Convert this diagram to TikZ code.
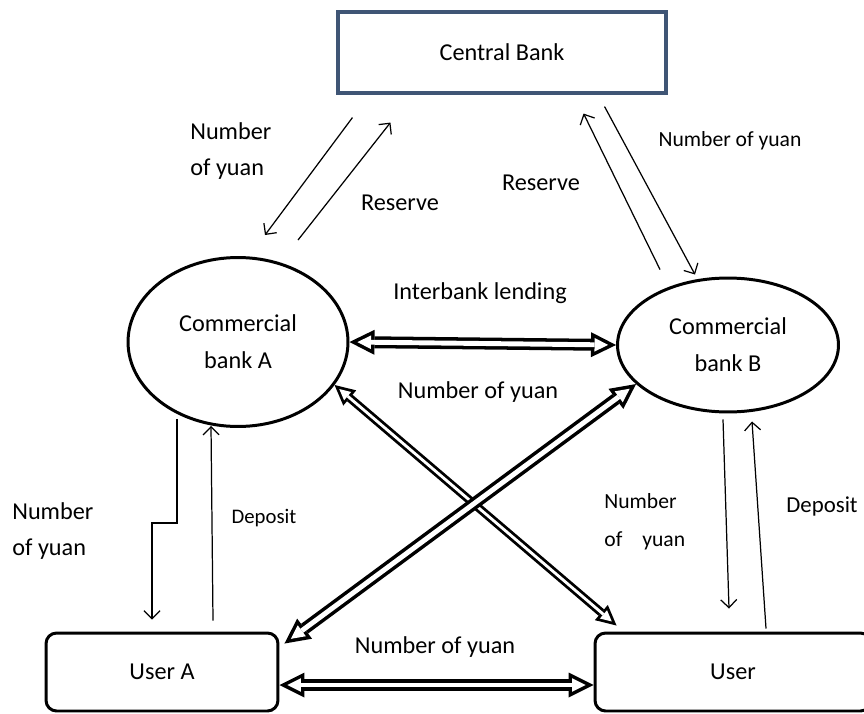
\documentclass[tikz,border=0pt]{standalone}
\definecolor{BankBlack}{HTML}{000000}
\definecolor{BankWhite}{HTML}{ffffff}
\definecolor{CentralSlate}{HTML}{3F5575}
\usepackage{fontspec}
\setmainfont{Carlito}
\usepackage{tikz}
\usetikzlibrary{shapes.geometric,arrows.meta,calc}
\tikzset{
    % Base text style
    basetext/.style={
        align=center,
        inner sep=0pt,
        font=\fontsize{13.8}{21}\selectfont
    },
    % Central bank box
    centralnode/.style={
        basetext,
        draw=CentralSlate,
        fill=BankWhite,
        line width=1.8pt,
        minimum width=6.56cm,
        minimum height=1.62cm
    },
    % Commercial bank ellipse
    banknode/.style={
        basetext,
        ellipse,
        draw=BankBlack,
        line width=1.7pt,
        minimum width=4.4cm,
        minimum height=3.38cm
    },
    % User box
    usernode/.style={
        basetext,
        draw=BankBlack,
        rounded corners=6pt,
        line width=1.7pt,
        minimum width=4.64cm,
        minimum height=1.56cm
    },
    % Free label
    labelnode/.style={
        basetext,
        align=left
    },
    % Thin one-way arrow
    flowarrow/.style={
        -{Straight Barb[length=1.6mm,width=3.2mm]},
        line width=0.7pt,
        draw=BankBlack
    },
    % Hollow two-way arrow (black arrow, white arrow inside)
    biarrow/.style={
        {Triangle[length=5mm,width=5mm,line width=0pt]}-{Triangle[length=5mm,width=5mm,line width=0pt]},
        line width=6.8pt,
        draw=BankBlack,
        postaction={
            draw=BankWhite,
            line width=2.8pt,
            shorten <=1.58mm, shorten >=1.58mm,
            {Triangle[length=2.72mm,width=2.72mm,line width=0pt]}-{Triangle[length=2.72mm,width=2.72mm,line width=0pt]}
        }
    },
    % Slimmer hollow two-way arrow
    slimbiarrow/.style={
        {Triangle[length=4mm,width=4mm,line width=0pt]}-{Triangle[length=4mm,width=4mm,line width=0pt]},
        line width=4.8pt,
        draw=BankBlack,
        postaction={
            draw=BankWhite,
            line width=1.6pt,
            shorten <=1.25mm, shorten >=1.25mm,
            {Triangle[length=2.19mm,width=2.19mm,line width=0pt]}-{Triangle[length=2.19mm,width=2.19mm,line width=0pt]}
        }
    }
}
\begin{document}
\begin{tikzpicture}[x=0.02cm, y=-0.02cm]
    \useasboundingbox (0,0) rectangle (864,713);

    % banks and users
    \node[centralnode] (central) at (502,52.5) {Central Bank};
    \node[banknode] (bankA) at (238,342) {Commercial\\bank A};
    \node[banknode, minimum width=4.42cm, minimum height=2.68cm] (bankB) at (728,345) {Commercial\\bank B};
    \node[usernode] (userA) at (162,672) {User A};
    \node[usernode, minimum width=5.52cm] (user) at (733,672) {User};

    % central bank and commercial banks
    \draw[flowarrow] ([shift={(16,23)}]central.south west) -- ([shift={(27,-21)}]bankA.north);
    \draw[flowarrow] ([shift={(60,-16)}]bankA.north) -- ([shift={(54,28)}]central.south west);
    \draw[flowarrow] ([shift={(-68,-7)}]bankB.north) -- ([shift={(-84,19)}]central.south east);
    \draw[flowarrow] ([shift={(-63,12)}]central.south east) -- ([shift={(-33,-2)}]bankB.north);

    \node[labelnode, anchor=west] (yuanCA) at (190,151) {Number\\of yuan};
    \node[basetext] (reserveA) at (400,203) {Reserve};
    \node[basetext] (reserveB) at (541,183) {Reserve};
    \node[basetext, font=\fontsize{12.3}{15}\selectfont] (yuanCB) at (730,141) {Number of yuan};

    % between banks and users
    \draw[biarrow] (bankA.east) -- (bankB.west);
    \draw[slimbiarrow] (bankA.-24) -- ([shift={(23,-6)}]user.north west);
    \draw[biarrow] ([shift={(5,12)}]userA.north east) -- (bankB.203);
    \draw[biarrow] ([shift={(0,13)}]userA.east) -- ([shift={(0,13)}]user.west);

    \node[basetext] (lending) at (480,293) {Interbank lending};
    \node[basetext] (yuanAB) at (478,392) {Number of yuan};
    \node[basetext] (yuanUU) at (435,647) {Number of yuan};

    % bank A and user A
    \draw[flowarrow] ([shift={(-61,-9)}]bankA.south) -- ++(0,104) -| ([shift={(-10,-12)}]userA.north);
    \draw[flowarrow] ([shift={(51,-11)}]userA.north) -- ([shift={(-27,-2)}]bankA.south);

    \node[labelnode, anchor=west] (yuanAU) at (12,531) {Number\\of yuan};
    \node[basetext, font=\fontsize{11.8}{15}\selectfont] (depositA) at (264,518) {Deposit};

    % bank B and user
    \draw[flowarrow] ([shift={(-5,6)}]bankB.south) -- ([shift={(-4,-23)}]user.north);
    \draw[flowarrow] ([shift={(33,-3)}]user.north) -- ([shift={(24,8)}]bankB.south);

    \node[labelnode, anchor=west, font=\fontsize{12.3}{21.5}\selectfont] (yuanBU) at (604,522) {Number\\of\hspace{0.4cm}yuan};
    \node[basetext, font=\fontsize{13}{15}\selectfont] (depositB) at (822,506) {Deposit};
\end{tikzpicture}
\end{document}
